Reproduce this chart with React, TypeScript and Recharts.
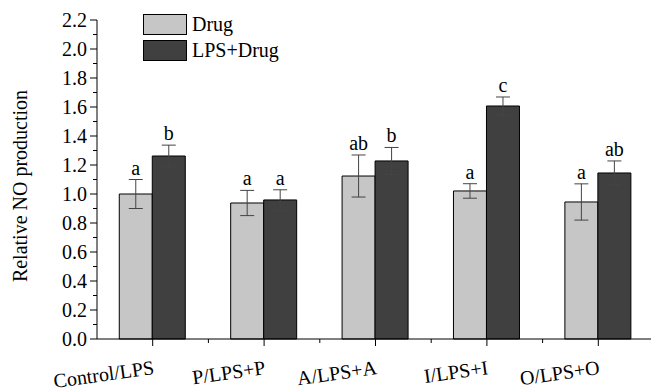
import React from 'react';
import { BarChart, Bar, XAxis, YAxis, ErrorBar, Legend, LabelList } from 'recharts';

const categories = ['Control/LPS', 'P/LPS+P', 'A/LPS+A', 'I/LPS+I', 'O/LPS+O'];
const drugValues = [1.0, 0.938, 1.124, 1.021, 0.945];
const drugErrors = [0.1, 0.087, 0.145, 0.05, 0.125];
const lpsValues = [1.262, 0.959, 1.228, 1.607, 1.145];
const lpsErrors = [0.075, 0.07, 0.093, 0.062, 0.083];
const drugLetters = ['a', 'a', 'ab', 'a', 'a'];
const lpsLetters = ['b', 'a', 'b', 'c', 'ab'];
const yMajorTicks = [0, 0.2, 0.4, 0.6, 0.8, 1.0, 1.2, 1.4, 1.6, 1.8, 2.0, 2.2];
const yMinorTicks = [0.1, 0.3, 0.5, 0.7, 0.9, 1.1, 1.3, 1.5, 1.7, 1.9, 2.1];
const seriesNames = ['Drug', 'LPS+Drug'];
const seriesColors = ['#c6c6c6', '#404040'];

const FONT = 'Liberation Serif, Times New Roman, serif';
const textStyle = { fontFamily: FONT, fontSize: 20 };

const data = categories.map((name, i) => ({
  name,
  drug: drugValues[i],
  drugErr: drugErrors[i],
  lps: lpsValues[i],
  lpsErr: lpsErrors[i],
}));

const yAllTicks = [...yMajorTicks, ...yMinorTicks].sort((a, b) => a - b);

const YTick = (props: any) => {
  const { x, y, payload } = props;
  const major = yMajorTicks.some((t) => Math.abs(t - payload.value) < 1e-6);
  return (
    <g>
      <line x1={x} x2={x - (major ? 7 : 4)} y1={y} y2={y} stroke="#000" strokeWidth={1} />
      {major && (
        <text x={x - 10} y={y} dy={7} textAnchor="end" style={textStyle} fill="#000">
          {Number(payload.value).toFixed(1)}
        </text>
      )}
    </g>
  );
};

const XTick = (props: any) => {
  const { x, y, payload } = props;
  const half = payload && payload.offset ? payload.offset : 0;
  return (
    <g>
      <line x1={x} x2={x} y1={y} y2={y + 7} stroke="#000" strokeWidth={1} />
      {half > 0 && <line x1={x + half} x2={x + half} y1={y} y2={y + 4} stroke="#000" strokeWidth={1} />}
      <text
        transform={`translate(${x + 2},${y + 35}) rotate(-8)`}
        textAnchor="end"
        style={textStyle}
        fill="#000"
      >
        {payload.value}
      </text>
    </g>
  );
};

const makeLetterLabel = (letters: string[], errors: number[], values: number[]) => (props: any) => {
  const { x, y, width, height, index } = props;
  const pxPerUnit = height / values[index];
  const errTop = y - errors[index] * pxPerUnit;
  return (
    <text x={x + width / 2} y={errTop - 5} textAnchor="middle" style={textStyle} fill="#000">
      {letters[index]}
    </text>
  );
};

const LegendContent = () => (
  <div style={{ fontFamily: FONT, fontSize: 20, color: '#000' }}>
    {seriesNames.map((n, i) => (
      <div key={n} style={{ display: 'flex', alignItems: 'center', height: 26 }}>
        <span
          style={{
            display: 'inline-block',
            width: 44,
            height: 21,
            background: seriesColors[i],
            border: '1px solid #000',
            boxSizing: 'border-box',
            marginRight: 5,
          }}
        />
        <span style={{ lineHeight: '20px' }}>{n}</span>
      </div>
    ))}
  </div>
);

export default function App() {
  return (
    <div style={{ position: 'fixed', left: 0, top: 0, width: 651, height: 391, overflow: 'hidden', background: '#fff' }}>
      <BarChart
        width={660}
        height={391}
        data={data}
        margin={{ top: 20, right: 6, bottom: 0, left: 0 }}
        barCategoryGap="20%"
        barGap={0}
      >
        <XAxis
          dataKey="name"
          height={52}
          interval={0}
          tickSize={0}
          tickMargin={0}
          tickLine={false}
          axisLine={{ stroke: '#000', strokeWidth: 1 }}
          tick={<XTick />}
        />
        <YAxis
          type="number"
          domain={[0, 2.2]}
          ticks={yAllTicks}
          interval={0}
          width={97}
          tickSize={0}
          tickMargin={0}
          tickLine={false}
          axisLine={{ stroke: '#000', strokeWidth: 1 }}
          tick={<YTick />}
          label={{
            content: () => (
              <text
                transform="translate(27,186) rotate(-90)"
                textAnchor="middle"
                style={textStyle}
                fill="#000"
              >
                Relative NO production
              </text>
            ),
          }}
        />
        <Legend
          layout="vertical"
          align="center"
          verticalAlign="middle"
          wrapperStyle={{ left: 143, top: 11, width: 'auto' }}
          content={<LegendContent />}
        />
        <Bar dataKey="drug" name={seriesNames[0]} fill={seriesColors[0]} stroke="#000" strokeWidth={1} isAnimationActive={false}>
          <ErrorBar dataKey="drugErr" width={7} stroke="#444" strokeWidth={1} direction="y" />
          <LabelList content={makeLetterLabel(drugLetters, drugErrors, drugValues)} />
        </Bar>
        <Bar dataKey="lps" name={seriesNames[1]} fill={seriesColors[1]} stroke="#000" strokeWidth={1} isAnimationActive={false}>
          <ErrorBar dataKey="lpsErr" width={7} stroke="#444" strokeWidth={1} direction="y" />
          <LabelList content={makeLetterLabel(lpsLetters, lpsErrors, lpsValues)} />
        </Bar>
      </BarChart>
    </div>
  );
}
